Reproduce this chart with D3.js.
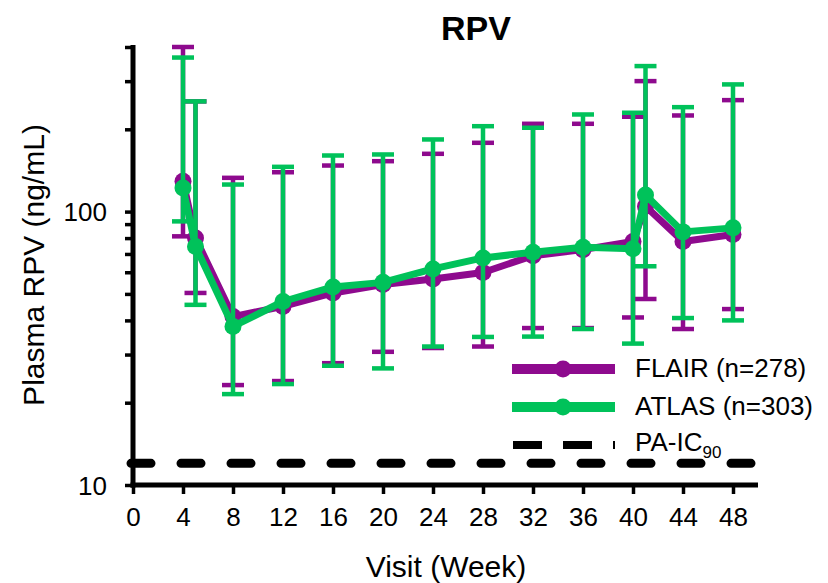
<!DOCTYPE html>
<html>
<head>
<meta charset="utf-8">
<script src="https://cdn.jsdelivr.net/npm/d3@7"></script>
<style>
  html, body { margin: 0; padding: 0; background: #fff; }
  svg { display: block; font-family: "Liberation Sans", Arial, sans-serif; }
</style>
</head>
<body>
<svg id="chart" width="828" height="583"></svg>
<script>
// Visit weeks
const weeks = [4, 5, 8, 12, 16, 20, 24, 28, 32, 36, 40, 41, 44, 48];

// FLAIR geometric means with 5th / 95th percentile bounds (ng/mL)
const flairMean  = [129, 80, 41.3, 45.0, 50.4, 54.1, 56.7, 59.9, 69.0, 72.6, 77.8, 104.6, 77.8, 82.4];
const flairLow   = [81.2, 50.4, 23.2, 24.0, 27.9, 30.7, 31.7, 32.1, 37.5, 37.5, 41.0, 47.9, 37.2, 44.0];
const flairHigh  = [400, 253, 132.9, 139.3, 147.4, 152.9, 162.7, 178.5, 209.5, 209.5, 222.3, 300.1, 224.7, 255.7];

// ATLAS geometric means with 5th / 95th percentile bounds (ng/mL)
const atlasMean  = [122, 74.6, 38.0, 46.9, 53.0, 55.1, 61.7, 67.7, 71.0, 74.0, 73.2, 114.9, 84.3, 87.2];
const atlasLow   = [92.1, 45.6, 21.5, 23.4, 27.3, 26.7, 32.1, 34.8, 34.9, 37.2, 32.9, 63.1, 40.8, 40.0];
const atlasHigh  = [366, 253, 125.6, 145.8, 160.4, 161.8, 183.6, 205.3, 202.6, 226.6, 229.9, 340.6, 241, 291.9];

// Protein-adjusted IC90 threshold (ng/mL)
const paIC90 = 12;

// Axis ticks
const xTicks = [0, 4, 8, 12, 16, 20, 24, 28, 32, 36, 40, 44, 48];
const yTicks = [10, 20, 30, 40, 50, 60, 70, 80, 90, 100, 200, 300, 400];
const yLabelled = [10, 100];

const seriesNames = ["FLAIR (n=278)", "ATLAS (n=303)"];
const colors = { flair: "#8E0A8E", atlas: "#00C25A" };

const svg = d3.select("#chart");

const x = d3.scaleLinear().domain([0, 50]).range([133, 758]);
const y = d3.scaleLog().domain([10, 400]).range([485, 47]);

// Threshold line
svg.append("line")
  .attr("x1", x(0) - 2).attr("x2", x(49.9))
  .attr("y1", y(paIC90)).attr("y2", y(paIC90))
  .attr("stroke", "#000").attr("stroke-width", 9)
  .attr("stroke-linecap", "round")
  .attr("stroke-dasharray", "20 30");

// Axes
const xAxis = svg.append("g")
  .attr("transform", `translate(0,${y(10)})`)
  .call(d3.axisBottom(x).tickValues(xTicks).tickSize(9).tickSizeOuter(0).tickPadding(14));
const yAxis = svg.append("g")
  .attr("transform", `translate(${x(0)},0)`)
  .call(d3.axisLeft(y).tickValues(yTicks).tickSize(8).tickSizeOuter(0).tickPadding(18)
    .tickFormat(d => yLabelled.includes(d) ? d3.format("d")(d) : ""));

[xAxis, yAxis].forEach(g => {
  g.select(".domain").attr("stroke", "#000").attr("stroke-width", 5);
  g.selectAll(".tick line").attr("stroke", "#000").attr("stroke-width", 3.5);
  g.selectAll(".tick text").attr("fill", "#000").attr("font-size", 26)
    .attr("font-family", "'Liberation Sans', Arial, sans-serif");
});
yAxis.select(".domain").attr("d", `M0,${y(10) + 2.5}V${y(400) - 2}`);
xAxis.select(".domain").attr("d", `M${x(0) - 2.5},0H${x(50)}`);
yAxis.selectAll(".tick text").attr("dy", "0.36em");

// One series: error bars, connecting line and markers
function drawSeries(mean, lo, hi, color) {
  const g = svg.append("g");
  const capHalf = 11;
  const bars = g.selectAll("g.err").data(weeks.map((w, i) => ({ w, lo: lo[i], hi: hi[i] })))
    .join("g").attr("class", "err");
  bars.append("line")
    .attr("x1", d => x(d.w)).attr("x2", d => x(d.w))
    .attr("y1", d => y(d.lo)).attr("y2", d => y(d.hi))
    .attr("stroke", color).attr("stroke-width", 4.5);
  bars.append("line")
    .attr("x1", d => x(d.w) - capHalf).attr("x2", d => x(d.w) + capHalf)
    .attr("y1", d => y(d.hi)).attr("y2", d => y(d.hi))
    .attr("stroke", color).attr("stroke-width", 4.5);
  bars.append("line")
    .attr("x1", d => x(d.w) - capHalf).attr("x2", d => x(d.w) + capHalf)
    .attr("y1", d => y(d.lo)).attr("y2", d => y(d.lo))
    .attr("stroke", color).attr("stroke-width", 4.5);

  const pts = weeks.map((w, i) => [w, mean[i]]);
  g.append("path")
    .attr("d", d3.line().x(d => x(d[0])).y(d => y(d[1]))(pts))
    .attr("fill", "none").attr("stroke", color).attr("stroke-width", 7)
    .attr("stroke-linejoin", "round");
  g.selectAll("circle").data(pts).join("circle")
    .attr("cx", d => x(d[0])).attr("cy", d => y(d[1])).attr("r", 8.5)
    .attr("fill", color);
}

drawSeries(flairMean, flairLow, flairHigh, colors.flair);
drawSeries(atlasMean, atlasLow, atlasHigh, colors.atlas);

// Title and axis titles
svg.append("text").attr("x", 476).attr("y", 40).attr("text-anchor", "middle")
  .attr("font-size", 34).attr("font-weight", "bold").text("RPV");
svg.append("text").attr("x", 446).attr("y", 577).attr("text-anchor", "middle")
  .attr("font-size", 30).text("Visit (Week)");
svg.append("text").attr("transform", "translate(44,265) rotate(-90)")
  .attr("text-anchor", "middle").attr("font-size", 30).text("Plasma RPV (ng/mL)");

// Legend
const legend = svg.append("g");
const legY = [369, 407];
[colors.flair, colors.atlas].forEach((c, i) => {
  legend.append("line").attr("x1", 512).attr("x2", 615)
    .attr("y1", legY[i]).attr("y2", legY[i])
    .attr("stroke", c).attr("stroke-width", 10);
  legend.append("circle").attr("cx", 563).attr("cy", legY[i]).attr("r", 8.5).attr("fill", c);
  legend.append("text").attr("x", 635).attr("y", legY[i] + 8).attr("font-size", 26)
    .text(seriesNames[i]);
});
legend.append("line").attr("x1", 513).attr("x2", 615).attr("y1", 445).attr("y2", 445)
  .attr("stroke", "#000").attr("stroke-width", 8).attr("stroke-dasharray", "29 21");
const pa = legend.append("text").attr("x", 635).attr("y", 451).attr("font-size", 26);
pa.append("tspan").text("PA-IC");
pa.append("tspan").attr("font-size", 17).attr("dy", 7).text("90");
</script>
</body>
</html>
